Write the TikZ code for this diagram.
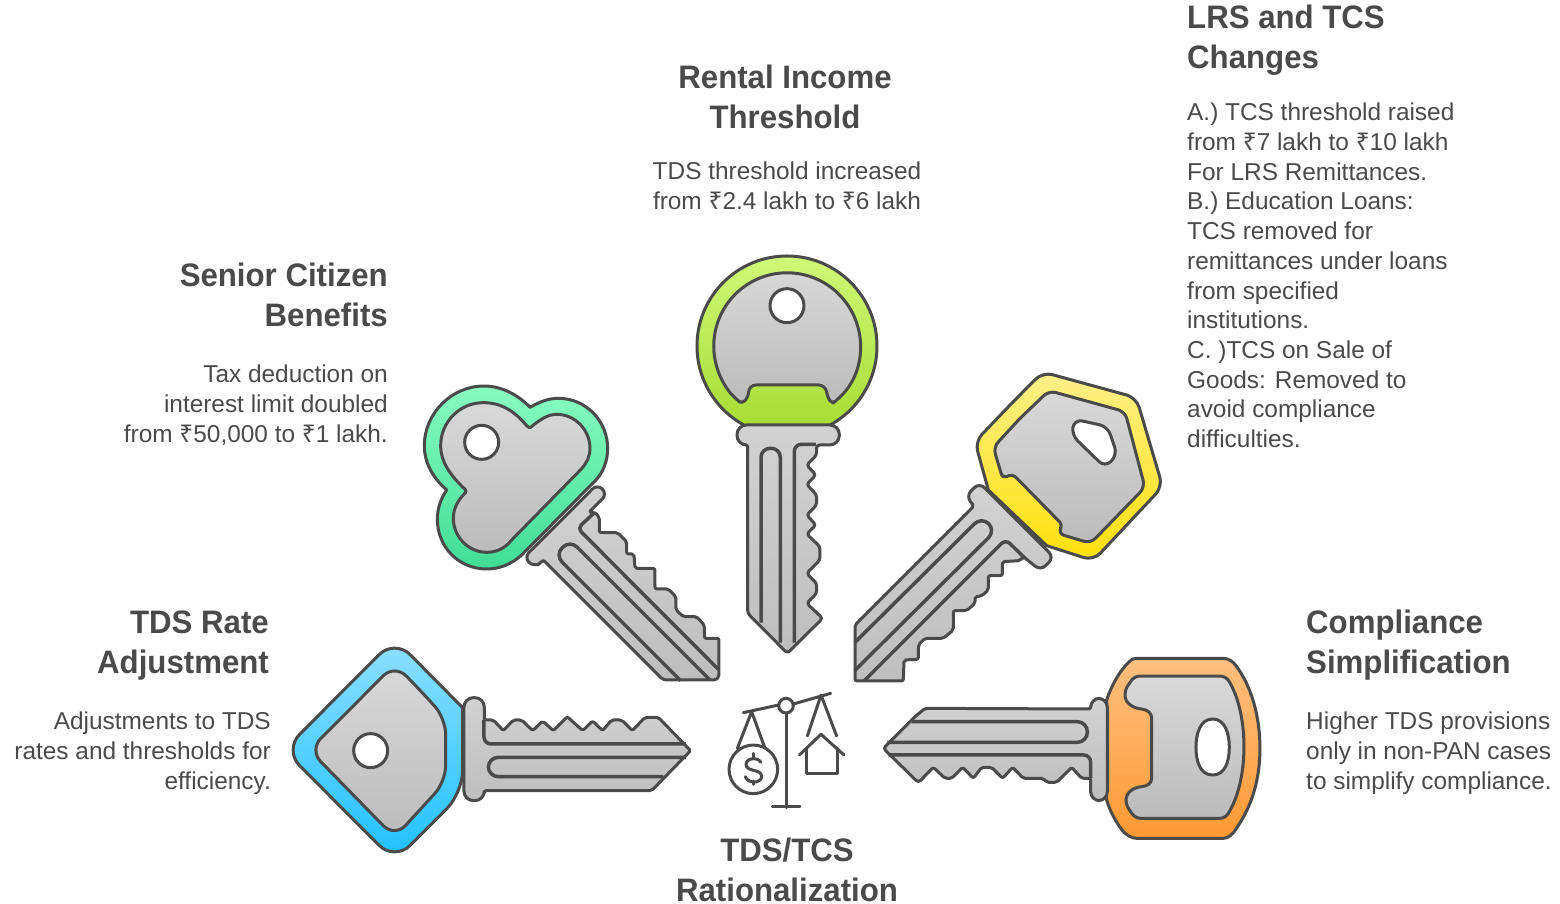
\documentclass[tikz,border=0pt]{standalone}
\usepackage{fontspec}
\setmainfont[BoldFeatures={FakeStretch=0.96}]{Liberation Sans}
\newfontfamily\rupfont{Noto Sans}
\newcommand{\rs}{{\rupfont ₹}}
\definecolor{ink}{HTML}{4A4A4A}
\definecolor{gA}{HTML}{D9D9D9}
\definecolor{gB}{HTML}{BBBBBB}
\definecolor{sA}{HTML}{D2D2D2}
\definecolor{sB}{HTML}{BEBEBE}
\definecolor{blA}{HTML}{8EE0FF}\definecolor{blB}{HTML}{1EC0FF}
\definecolor{grA}{HTML}{D0F878}\definecolor{grB}{HTML}{A4DC30}
\definecolor{teA}{HTML}{88FCC0}\definecolor{teB}{HTML}{40DC98}
\definecolor{yeA}{HTML}{FFF08A}\definecolor{yeB}{HTML}{FFE00A}
\definecolor{orA}{HTML}{FFC080}\definecolor{orB}{HTML}{FF9933}
\tikzset{
  keyline/.style={draw=ink,line width=3pt,line join=round},
  rim/.style 2 args={keyline,top color=#1,bottom color=#2},
  plate/.style={keyline,top color=gA,bottom color=gB},
  shaft/.style={keyline,top color=sA,bottom color=sB},
  hole/.style={keyline,fill=white},
  groove/.style={draw=ink,line width=3.5pt,line cap=butt,line join=round},
  icon/.style={draw=ink,line width=3pt,line cap=round,line join=round},
  ttl/.style={inner sep=0pt,text=ink,font=\fontsize{32.5}{40}\selectfont\bfseries},
  bdy/.style={inner sep=0pt,text=ink,font=\fontsize{24.4}{29.7}\selectfont},
}
\begin{document}
\begin{tikzpicture}[x=1pt,y=-1pt]
\useasboundingbox (0,0) rectangle (1560,904);

% ---- blue key
\begin{scope}[shift={(280,640)},x=0.3333pt,y=-0.3333pt]
\draw[rim={blA}{blB},rounded corners=22pt] (446,100) -- (344,-3) -- (12,330) -- (344,663) -- (548,458) [sharp corners] -- (548,203) -- cycle;
\draw[plate,rounded corners=16pt] (420,150) -- (344,73) -- (88,330) -- (344,592) -- (497,425) -- (497,235) -- cycle;
\draw[hole] (272,332) circle (17pt);
\draw[shaft,rounded corners=9.5pt] (552,325) -- (552,173) -- (613,173) [rounded corners=2pt] -- (613,240) -- (640,240) -- (670,272) -- (700,240) -- (725,240) -- (758,272) -- (788,243) -- (820,272) -- (862,230) -- (908,272) -- (938,243) -- (968,272) -- (995,240) -- (1025,240) -- (1057,272) -- (1095,232) -- (1135,232) -- (1232,332) -- (1115,452) -- (613,452) [rounded corners=9.5pt] -- (613,482) -- (552,482) -- cycle;
\draw[groove,rounded corners=7pt] (1218,312) -- (612,312) -- (612,240);
\draw[groove,rounded corners=10pt] (1218,352) -- (625,352) -- (625,410) -- (1150,410);
\end{scope}

% ---- green key
\begin{scope}[shift={(680,250)},x=0.3333pt,y=-0.3333pt]
\draw[rim={grA}{grB}] (321,288) circle (90pt);
\draw[plate,rounded corners=4pt] (468,452) arc[start angle=-48.1,end angle=227.1,radius=73.3pt] -- (186,462) -- (205,440) [rounded corners=7pt] -- (207,405) -- (437,405) [rounded corners=4pt] -- (442,440) -- (456,462) -- cycle;
\draw[hole] (321,167) circle (17pt);
\draw[shaft,rounded corners=9.5pt] (321,525) -- (171,525) -- (171,585) [rounded corners=2pt] -- (203,585) [rounded corners=3pt] -- (203,1090) -- (322,1210) -- (428,1105) -- (380,1060) -- (410,1030) -- (410,1000) -- (380,970) -- (420,930) -- (420,890) -- (380,852) -- (408,825) -- (380,795) -- (410,765) -- (410,735) -- (380,703) -- (408,675) -- (380,645) -- (410,615) -- (410,585) [rounded corners=9.5pt] -- (478,585) -- (478,525) -- cycle;
\draw[groove,rounded corners=9pt] (243,1118) -- (243,595) -- (301,595) -- (301,1178);
\draw[groove,rounded corners=7pt] (343,1178) -- (343,583) -- (408,583);
\end{scope}

% ---- teal key
\begin{scope}[shift={(415,380)},x=0.3333pt,y=-0.3333pt]
\draw[rim={teA}{teB}] (345,82) .. controls (375,65) and (400,55) .. (430,55) .. controls (515,55) and (578,125) .. (578,205) .. controls (578,245) and (563,280) .. (540,303) -- (320,525) .. controls (290,552) and (255,567) .. (215,567) .. controls (130,567) and (67,500) .. (67,418) .. controls (67,385) and (78,355) .. (95,330) .. controls (55,295) and (28,250) .. (28,197) .. controls (28,100) and (110,18) .. (207,18) .. controls (260,18) and (310,45) .. (345,82) -- cycle;
\draw[plate] (347,142) .. controls (375,118) and (400,103) .. (425,103) .. controls (480,103) and (525,150) .. (525,205) .. controls (525,230) and (515,250) .. (498,268) -- (290,480) .. controls (270,505) and (245,517) .. (215,517) .. controls (160,517) and (115,470) .. (115,415) .. controls (115,385) and (130,358) .. (152,338) .. controls (154,334) and (152,330) .. (150,328) .. controls (105,285) and (77,245) .. (77,197) .. controls (77,125) and (135,68) .. (205,68) .. controls (260,68) and (300,95) .. (335,137) .. controls (339,142) and (343,143) .. (347,142) -- cycle;
\draw[hole] (200,187) circle (17pt);
\draw[shaft,rounded corners=7pt] (437,423) -- (547,312) -- (577,342) [rounded corners=2pt] -- (522,397) -- (540,397) -- (553,412) -- (553,458) -- (608,458) -- (635,485) -- (635,522) -- (657,522) -- (660,565) -- (720,565) -- (720,627) -- (760,627) -- (783,650) -- (783,690) -- (805,710) -- (845,710) -- (868,735) -- (868,775) -- (912,775) [rounded corners=5pt] -- (912,900) [rounded corners=3pt] -- (745,900) [rounded corners=2pt] -- (385,540) -- (372,552) [rounded corners=7pt] -- (357,562) -- (327,532) -- cycle;
\draw[groove,rounded corners=5pt] (910,868) -- (488,445) -- (536,400);
\draw[groove,rounded corners=10pt] (797,902) -- (420,525) -- (465,480) -- (884,899);
\end{scope}

% ---- yellow key
\begin{scope}[shift={(850,370)},x=0.3333pt,y=-0.3333pt]
\draw[rim={yeA}{yeB},rounded corners=10pt] (480,105) -- (578,6) -- (859,83) -- (938,350) -- (730,572) [sharp corners] -- (590,527) -- (415,360) [rounded corners=10pt] -- (375,215) -- cycle;
\draw[plate,rounded corners=7pt] (510,145) -- (597,62) -- (825,125) -- (885,352) -- (722,520) -- (622,490) [rounded corners=4pt] -- (638,465) -- (488,312) -- (458,325) [rounded corners=7pt] -- (430,232) -- cycle;
\draw[hole,rounded corners=8pt] (730,160) -- (773,170) -- (802,255) -- (765,292) -- (665,195) -- (673,148) -- cycle;
\draw[shaft,rounded corners=7pt] (388,338) -- (348,378) [rounded corners=2pt] -- (372,408) -- (15,765) -- (15,933) -- (160,933) -- (162,870) -- (205,868) -- (205,825) -- (225,805) -- (280,805) -- (310,780) -- (310,722) -- (350,722) -- (375,700) -- (375,680) -- (395,678) -- (415,660) -- (415,617) -- (457,617) -- (457,575) -- (510,572) -- (520,560) [rounded corners=7pt] -- (572,602) -- (612,562) -- cycle;
\draw[groove,rounded corners=10pt] (14,818) -- (395,440) -- (437,482) -- (14,902);
\draw[groove,rounded corners=6pt] (42,933) -- (467,508) -- (525,565);
\end{scope}

% ---- orange key
\begin{scope}[shift={(880,650)},x=0.3333pt,y=-0.3333pt]
\draw[rim={orA}{orB}] (680,150) .. controls (695,105) and (720,60) .. (750,33) .. controls (755,28) and (762,25) .. (770,25) -- (1030,25) .. controls (1045,25) and (1060,35) .. (1068,47) .. controls (1115,110) and (1140,200) .. (1140,295) .. controls (1140,390) and (1115,470) .. (1068,537) .. controls (1060,552) and (1045,565) .. (1030,565) -- (770,565) .. controls (755,565) and (740,555) .. (730,545) .. controls (710,520) and (690,485) .. (680,450) -- cycle;
\draw[plate] (780,78) -- (1020,78) .. controls (1032,78) and (1042,85) .. (1048,95) .. controls (1080,150) and (1092,225) .. (1092,290) .. controls (1092,355) and (1080,430) .. (1048,485) .. controls (1042,497) and (1032,505) .. (1020,505) -- (780,505) .. controls (768,505) and (758,495) .. (752,485) .. controls (745,475) and (738,465) .. (738,450) .. controls (738,428) and (760,412) .. (785,410) .. controls (805,408) and (815,398) .. (815,385) -- (815,205) .. controls (815,190) and (805,180) .. (785,177) .. controls (760,175) and (735,160) .. (735,135) .. controls (735,115) and (745,105) .. (752,95) .. controls (758,85) and (768,78) .. (780,78) -- cycle;
\draw[hole] (998,207) .. controls (1035,207) and (1048,250) .. (1048,292) .. controls (1048,335) and (1035,375) .. (998,375) .. controls (961,375) and (948,335) .. (948,292) .. controls (948,250) and (961,207) .. (998,207) -- cycle;
\draw[shaft,rounded corners=2pt] (682,298) [rounded corners=9pt] -- (682,145) -- (632,145) [rounded corners=2pt] -- (632,177) -- (135,175) -- (105,200) [rounded corners=3pt] -- (10,295) -- (115,398) [rounded corners=2pt] -- (160,352) -- (195,385) -- (215,385) -- (248,352) -- (280,385) -- (305,352) -- (335,352) -- (368,385) -- (398,352) -- (430,385) -- (490,385) -- (500,397) -- (530,397) -- (575,352) -- (605,385) -- (632,385) [rounded corners=9pt] -- (632,452) -- (682,452) -- cycle;
\draw[groove,rounded corners=10pt] (95,215) -- (622,215) -- (622,277) -- (22,277);
\draw[groove,rounded corners=7pt] (25,315) -- (632,315) -- (632,385);
\end{scope}

% ---- scales icon
\begin{scope}[shift={(720,685)},x=0.3333pt,y=-0.3333pt]
\draw[icon] (70,83) -- (176,60);
\draw[icon] (220,57) -- (332,25);
\draw[icon] (198,62) circle (7.3pt);
\draw[icon] (198,85) -- (198,368);
\draw[icon] (157,365) -- (240,365);
\draw[icon] (52,190) -- (95,80) -- (135,190);
\draw[icon] (262,153) -- (303,30) -- (350,153);
\draw[icon] (100,253) circle (24.3pt);
\draw[icon] (122,232) .. controls (118,218) and (80,215) .. (78,238) .. controls (78,262) and (125,250) .. (125,275) .. controls (122,298) and (82,295) .. (76,275);
\draw[icon] (100,205) -- (100,217);
\draw[icon] (100,288) -- (100,298);
\draw[icon] (238,210) -- (303,148) -- (372,210);
\draw[icon] (260,190) -- (260,265) -- (352,265) -- (352,190);
\end{scope}

% ---- text
\node[ttl,anchor=north,align=center] (t1) at (785,65) {Rental Income\\Threshold};
\node[bdy,anchor=north,align=center] (b1) at (787,162) {TDS threshold increased\\from \rs2.4 lakh to \rs6 lakh};
\node[ttl,anchor=north west,align=left] (t2) at (1187,5) {LRS and TCS\\Changes};
\node[bdy,anchor=north west,align=left] (b2) at (1187,103) {A.) TCS threshold raised\\from \rs7 lakh to \rs10 lakh\\For LRS Remittances.\\B.) Education Loans:\\TCS removed for\\remittances under loans\\from specified\\institutions.\\C. )TCS on Sale of\\Goods: Removed to\\avoid compliance\\difficulties.};
\node[ttl,anchor=north east,align=right] (t3) at (388,263) {Senior Citizen\\Benefits};
\node[bdy,anchor=north east,align=right] (b3) at (388,365) {Tax deduction on\\interest limit doubled\\from \rs50,000 to \rs1 lakh.};
\node[ttl,anchor=north east,align=right] (t4) at (269,610.5) {TDS Rate\\Adjustment};
\node[bdy,anchor=north east,align=right] (b4) at (271,712) {Adjustments to TDS\\rates and thresholds for\\efficiency.};
\node[ttl,anchor=north west,align=left] (t5) at (1306,610) {Compliance\\Simplification};
\node[bdy,anchor=north west,align=left] (b5) at (1306,712) {Higher TDS provisions\\only in non-PAN cases\\to simplify compliance.};
\node[ttl,anchor=north,align=center] (t6) at (787,837.5) {TDS/TCS\\Rationalization};
\end{tikzpicture}
\end{document}
